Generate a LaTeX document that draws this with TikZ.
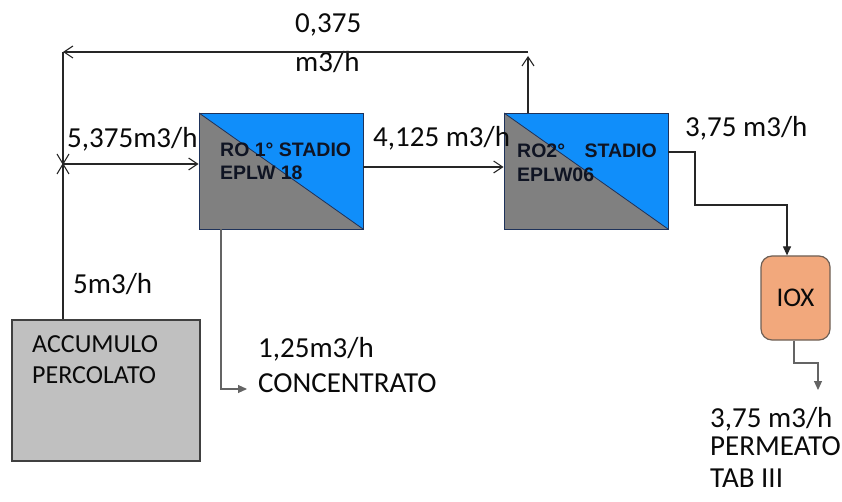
\documentclass[tikz,border=0pt]{standalone}
\usepackage{fontspec}
\setmainfont{Carlito}
\newfontfamily\roboxfont{Liberation Sans}
\usetikzlibrary{arrows.meta}
\definecolor{roblue}{RGB}{16,142,250}
\definecolor{rogray}{RGB}{128,128,128}
\definecolor{roedge}{RGB}{30,50,90}
\definecolor{accgray}{RGB}{192,192,192}
\definecolor{ioxfill}{RGB}{242,168,124}
\definecolor{ioxedge}{RGB}{110,95,85}
\definecolor{txt}{RGB}{10,10,10}
\definecolor{rotxt}{RGB}{15,20,35}
\definecolor{gline}{RGB}{100,100,100}
\begin{document}
\begin{tikzpicture}[x=1pt,y=-1pt,
  flow/.style={anchor=base west,inner sep=0,text=txt,font=\fontsize{29}{31}\selectfont},
  boxlbl/.style={anchor=base west,inner sep=0,text=txt,font=\fontsize{26}{28}\selectfont},
  rolbl/.style={anchor=base west,inner sep=0,text=rotxt,font=\roboxfont\bfseries\fontsize{19.5}{22}\selectfont},
  rounit/.style={draw=roedge,line width=0.8pt,fill=roblue,minimum width=164pt,minimum height=116pt,inner sep=0pt,
    path picture={\fill[rogray] (path picture bounding box.north west) -- (path picture bounding box.south west) -- (path picture bounding box.south east) -- cycle;
      \draw[roedge,line width=0.8pt] (path picture bounding box.north west) -- (path picture bounding box.south east);}},
  accbox/.style={draw=black!75,line width=1.4pt,fill=accgray,minimum width=188pt,minimum height=141pt,inner sep=0pt},
  ioxbox/.style={draw=ioxedge,line width=1.2pt,fill=ioxfill,rounded corners=11pt,minimum width=69pt,minimum height=84pt,inner sep=0pt,text=txt,font=\fontsize{27}{29}\selectfont},
  bline/.style={draw=black!85,line width=1.1pt},
  gconn/.style={draw=gline,line width=1.1pt},
  openarrow/.style={-{Straight Barb[length=9pt,width=12pt,line width=1.1pt]}},
  fillarrow/.style={-{Triangle[length=9pt,width=8pt]}}
]
\useasboundingbox (0,0) rectangle (842,502);
\fill[white] (0,0) rectangle (842,502);

% units
\node[rounit] (ro1) at (281,171) {};
\node[rounit] (ro2) at (586,171) {};
\node[accbox] (acc) at (106,390.5) {};
\node[ioxbox] (iox) at (795.5,298) {IOX};

% unit labels
\node[rolbl] (ro1a) at (220,157) {RO 1° STADIO};
\node[rolbl] (ro1b) at (220,180) {EPLW 18};
\node[rolbl] (ro2a) at (517,158) {RO2°\quad STADIO};
\node[rolbl] (ro2b) at (517,182) {EPLW06};
\node[boxlbl] (acca) at (32,352) {ACCUMULO};
\node[boxlbl] (accb) at (32,383) {PERCOLATO};

% flow labels
\node[flow] (f0a) at (295,33) {0,375};
\node[flow] (f0b) at (295,72) {m3/h};
\node[flow] (f1) at (67,148) {5,375m3/h};
\node[flow] (f2) at (373,147) {4,125 m3/h};
\node[flow] (f3) at (685,137) {3,75 m3/h};
\node[flow] (f4) at (73,293) {5m3/h};
\node[flow] (f5) at (258,357) {1,25m3/h};
\node[flow] (f6) at (258,392) {CONCENTRATO};
\node[flow] (f7) at (710,427) {3,75 m3/h};
\node[flow] (f8) at (710,455) {PERMEATO};
\node[flow] (f9) at (710,487) {TAB III};

% coordinates
\coordinate (tl) at (63,52);
\coordinate (tr) at (528,52);
\coordinate (up) at (528,56);
\coordinate (lx) at (63,164);
\coordinate (mid) at (0,167);
\coordinate (conc) at (247,389);
\coordinate (out) at (818,390);

% recycle line
\draw[bline,openarrow] (ro2.north -| up) -- (up);
\draw[bline,openarrow] (tr) -- (tl);
\draw[bline] (tl) -- (acc.north -| tl);
% feed
\draw[bline,openarrow] (lx) -- (lx -| ro1.west);
\draw[bline] (lx) ++(-6,-10) -- ++(12,20);
\draw[bline] (lx) ++(6,-10) -- ++(-12,20);
% RO1 -> RO2
\draw[bline,openarrow] (ro1.east |- mid) -- (ro2.west |- mid);
% RO2 -> IOX
\draw[bline,fillarrow] (ro2.east |- 0,152) -- (695,152) -- (695,205) -- (787,205) -- (iox.north -| 787,0);
% IOX -> permeate
\draw[gconn,fillarrow,gline] (iox.south -| 794,0) -- (794,363) -- (818,363) -- (out);
% concentrate
\draw[gconn,fillarrow,gline] (ro1.south -| 221,0) -- (221,389) -- (conc);
\end{tikzpicture}
\end{document}
